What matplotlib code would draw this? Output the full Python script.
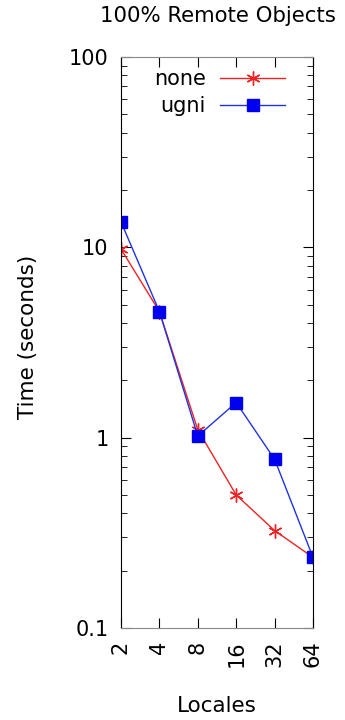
import matplotlib
matplotlib.use("Agg")
import matplotlib.pyplot as plt
from matplotlib.ticker import LogLocator, NullFormatter

locales = ["2", "4", "8", "16", "32", "64"]
none_vals = [9.8, 4.6, 1.1, 0.50, 0.325, 0.235]
ugni_vals = [13.6, 4.6, 1.02, 1.53, 0.77, 0.235]

plt.rcParams['font.family'] = ['DejaVu Sans']
W, H = 345, 720
fig = plt.figure(figsize=(W/100, H/100), dpi=100)
ax = fig.add_axes([121/W, 1-628/H, (313-121)/W, (628-57)/H])

x = list(range(len(locales)))
ax.plot(x, none_vals, color='#ee2222', lw=1, marker=(6, 2, 0), ms=10, mew=1, label='none')
ax.plot(x, ugni_vals, color='#2233dd', lw=1, marker='s', ms=8.5, mfc='#0000ee', mec='#0000ee', label='ugni')

ax.set_yscale('log')
ax.set_ylim(0.1, 100)
ax.set_xlim(0, len(locales)-1)
ax.set_xticks(x)
ax.set_xticklabels(locales, rotation=90, fontsize=15)
ax.set_yticks([0.1, 1, 10, 100])
ax.set_yticklabels(["0.1", "1", "10", "100"], fontsize=15)
ax.yaxis.set_minor_locator(LogLocator(base=10, subs=range(2, 10)))
ax.yaxis.set_minor_formatter(NullFormatter())
ax.tick_params(which='both', direction='in', top=True, right=True)
ax.tick_params(which='major', length=7, pad=9)
ax.tick_params(which='minor', length=4)
for s in ['top', 'bottom']:
    ax.spines[s].set_color('#888888')

fig.text(218/W, 1-16/H, "100% Remote Objects", fontsize=15.3, ha='center', va='center')
fig.text(28/W, 1-337/H, "Time (seconds)", fontsize=15.5, ha='center', va='center', rotation=90)
fig.text(217/W, 1-706/H, "Locales", fontsize=15.5, ha='center', va='center')

leg = ax.legend(loc='upper right', bbox_to_anchor=((285-121)/192, (628-69)/571),
                frameon=False, markerfirst=False, fontsize=15,
                handlelength=3.1, borderaxespad=0, labelspacing=0.35, handletextpad=0.7,
                borderpad=0)

fig.savefig("out.png", dpi=100)
